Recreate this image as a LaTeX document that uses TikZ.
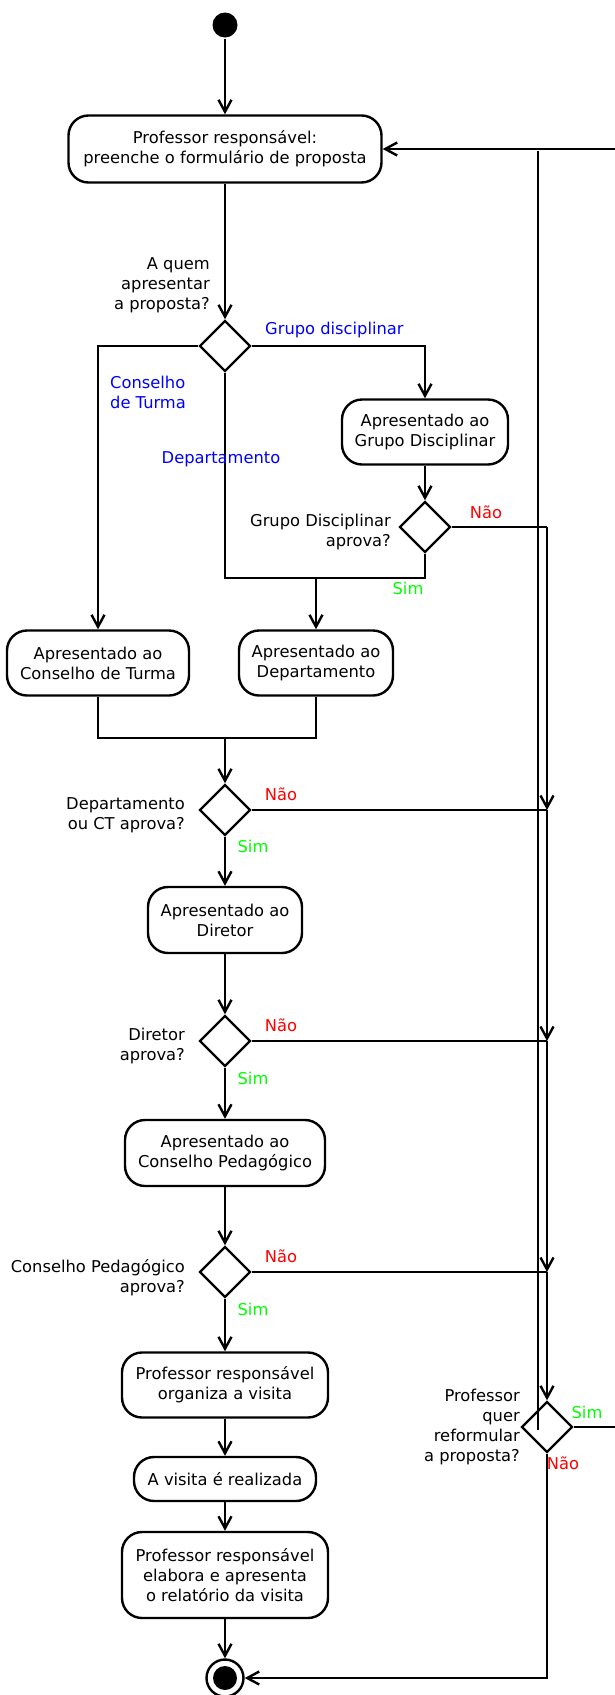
\documentclass[tikz,border=0pt]{standalone}
\usepackage{fontspec}
\setmainfont{DejaVu Sans}
\usetikzlibrary{shapes.geometric,arrows.meta}
\definecolor{simverde}{rgb}{0,1,0}
\definecolor{naovermelho}{rgb}{1,0,0}
\definecolor{ramoazul}{rgb}{0,0,1}

\begin{document}
\begin{tikzpicture}[
    x=1pt,y=-1pt,line width=2.4pt,
    >={Straight Barb[length=12pt,width=13pt]},
    every node/.style={font=\fontsize{16.3}{20}\selectfont},
    acao/.style={draw,rounded corners=20pt,align=center,inner sep=0pt},
    decisao/.style={draw,diamond,minimum size=51pt,inner sep=0pt},
    pergunta/.style={align=right,inner sep=0pt},
    ramo/.style={text=ramoazul,inner sep=0pt},
    nao/.style={text=naovermelho,inner sep=0pt},
    sim/.style={text=simverde,inner sep=0pt}]
    \useasboundingbox (0,0) rectangle (614,1695);

    % acoes e decisoes
    \node[circle,fill=black,minimum size=25pt,inner sep=0pt] (inicio) at (225,25) {};
    \node[acao,minimum width=313pt,minimum height=67pt] (a1) at (225,149)
        {Professor responsável:\\preenche o formulário de proposta};
    \node[decisao] (d1) at (225,346) {};
    \node[acao,minimum width=166pt,minimum height=65pt] (aGD) at (425,432)
        {Apresentado ao\\Grupo Disciplinar};
    \node[decisao] (dGD) at (425,527) {};
    \node[acao,minimum width=182pt,minimum height=65pt] (aCT) at (98,663)
        {Apresentado ao\\Conselho de Turma};
    \node[acao,minimum width=154pt,minimum height=65pt] (aDep) at (316,663)
        {Apresentado ao\\Departamento};
    \node[decisao] (dDCT) at (225,810) {};
    \node[acao,minimum width=154pt,minimum height=66pt] (aDir) at (225,920)
        {Apresentado ao\\Diretor};
    \node[decisao] (dDir) at (225,1041) {};
    \node[acao,minimum width=200pt,minimum height=66pt] (aCP) at (225,1153)
        {Apresentado ao\\Conselho Pedagógico};
    \node[decisao] (dCP) at (225,1272) {};
    \node[acao,minimum width=206pt,minimum height=65pt] (aOrg) at (225,1385)
        {Professor responsável\\organiza a visita};
    \node[acao,minimum width=182pt,minimum height=44pt] (aReal) at (225,1479)
        {A visita é realizada};
    \node[acao,minimum width=206pt,minimum height=86pt] (aRel) at (225,1575)
        {Professor responsável\\elabora e apresenta\\o relatório da visita};
    \node[circle,draw,minimum size=37pt,inner sep=0pt] (fim) at (225,1678) {};
    \fill (fim) circle (12pt);
    \node[decisao] (dRef) at (547,1427) {};

    % fluxo principal
    \draw[->] (inicio) -- (a1);
    \draw[->] (a1) -- (d1);
    \draw[->] (d1.west) -| (aCT.north);
    \draw[->] (d1.east) -| (aGD.north);
    \draw[->] (aGD) -- (dGD);
    \coordinate (jDep) at (316,578);
    \draw (d1.south) |- (jDep);
    \draw (dGD.south) |- (jDep);
    \draw[->] (jDep) -- (aDep.north);
    \coordinate (jUne) at (225,738);
    \draw (aCT.south) |- (jUne) -| (aDep.south);
    \draw[->] (jUne) -- (dDCT.north);
    \draw[->] (dDCT) -- (aDir);
    \draw[->] (aDir) -- (dDir);
    \draw[->] (dDir) -- (aCP);
    \draw[->] (aCP) -- (dCP);
    \draw[->] (dCP) -- (aOrg);
    \draw[->] (aOrg) -- (aReal);
    \draw[->] (aReal) -- (aRel);
    \draw[->] (aRel) -- (fim);

    % ramos "Nao"
    \coordinate (jNo0) at (dGD.east -| dRef.north);
    \draw (dGD.east) -- (jNo0);
    \foreach \dec [count=\i] in {dDCT,dDir,dCP} {
        \coordinate (jNo\i) at (\dec.east -| dRef.north);
        \draw (\dec.east) -- (jNo\i);
    }
    \foreach \i [evaluate=\i as \j using int(\i+1)] in {0,1,2}
        \draw[->] (jNo\i) -- (jNo\j);
    \draw[->] (jNo3) -- (dRef.north);
    \draw[->] (dRef.south) |- (fim.east);
    \coordinate (volta) at (640,1427);
    \draw[->] (dRef.east) -- (volta) |- (a1.east);
    \coordinate (tracoA) at (538,151);
    \coordinate (tracoB) at (538,1430);
    \draw (tracoA) -- (tracoB);

    % rotulos
    \node[pergunta,anchor=east] at (211,285) {A quem\\apresentar\\a proposta?};
    \node[ramo,anchor=west] at (264,330) {Grupo disciplinar};
    \node[ramo,anchor=west,align=left] at (109,392) {Conselho\\de Turma};
    \node[ramo] at (221,459) {Departamento};
    \node[pergunta,anchor=east] at (392,532) {Grupo Disciplinar\\aprova?};
    \node[nao] at (486,512) {Não};
    \node[sim] at (408,588) {Sim};
    \node[pergunta,anchor=east] at (186,815) {Departamento\\ou CT aprova?};
    \node[nao] at (281,794) {Não};
    \node[sim] at (253,846) {Sim};
    \node[pergunta,anchor=east] at (186,1046) {Diretor\\aprova?};
    \node[nao] at (281,1025) {Não};
    \node[sim] at (253,1078) {Sim};
    \node[pergunta,anchor=east] at (186,1278) {Conselho Pedagógico\\aprova?};
    \node[nao] at (281,1256) {Não};
    \node[sim] at (253,1309) {Sim};
    \node[pergunta,anchor=east] at (521,1427) {Professor\\quer\\reformular\\a proposta?};
    \node[sim] at (587,1412) {Sim};
    \node[nao] at (563,1463) {Não};
\end{tikzpicture}
\end{document}
